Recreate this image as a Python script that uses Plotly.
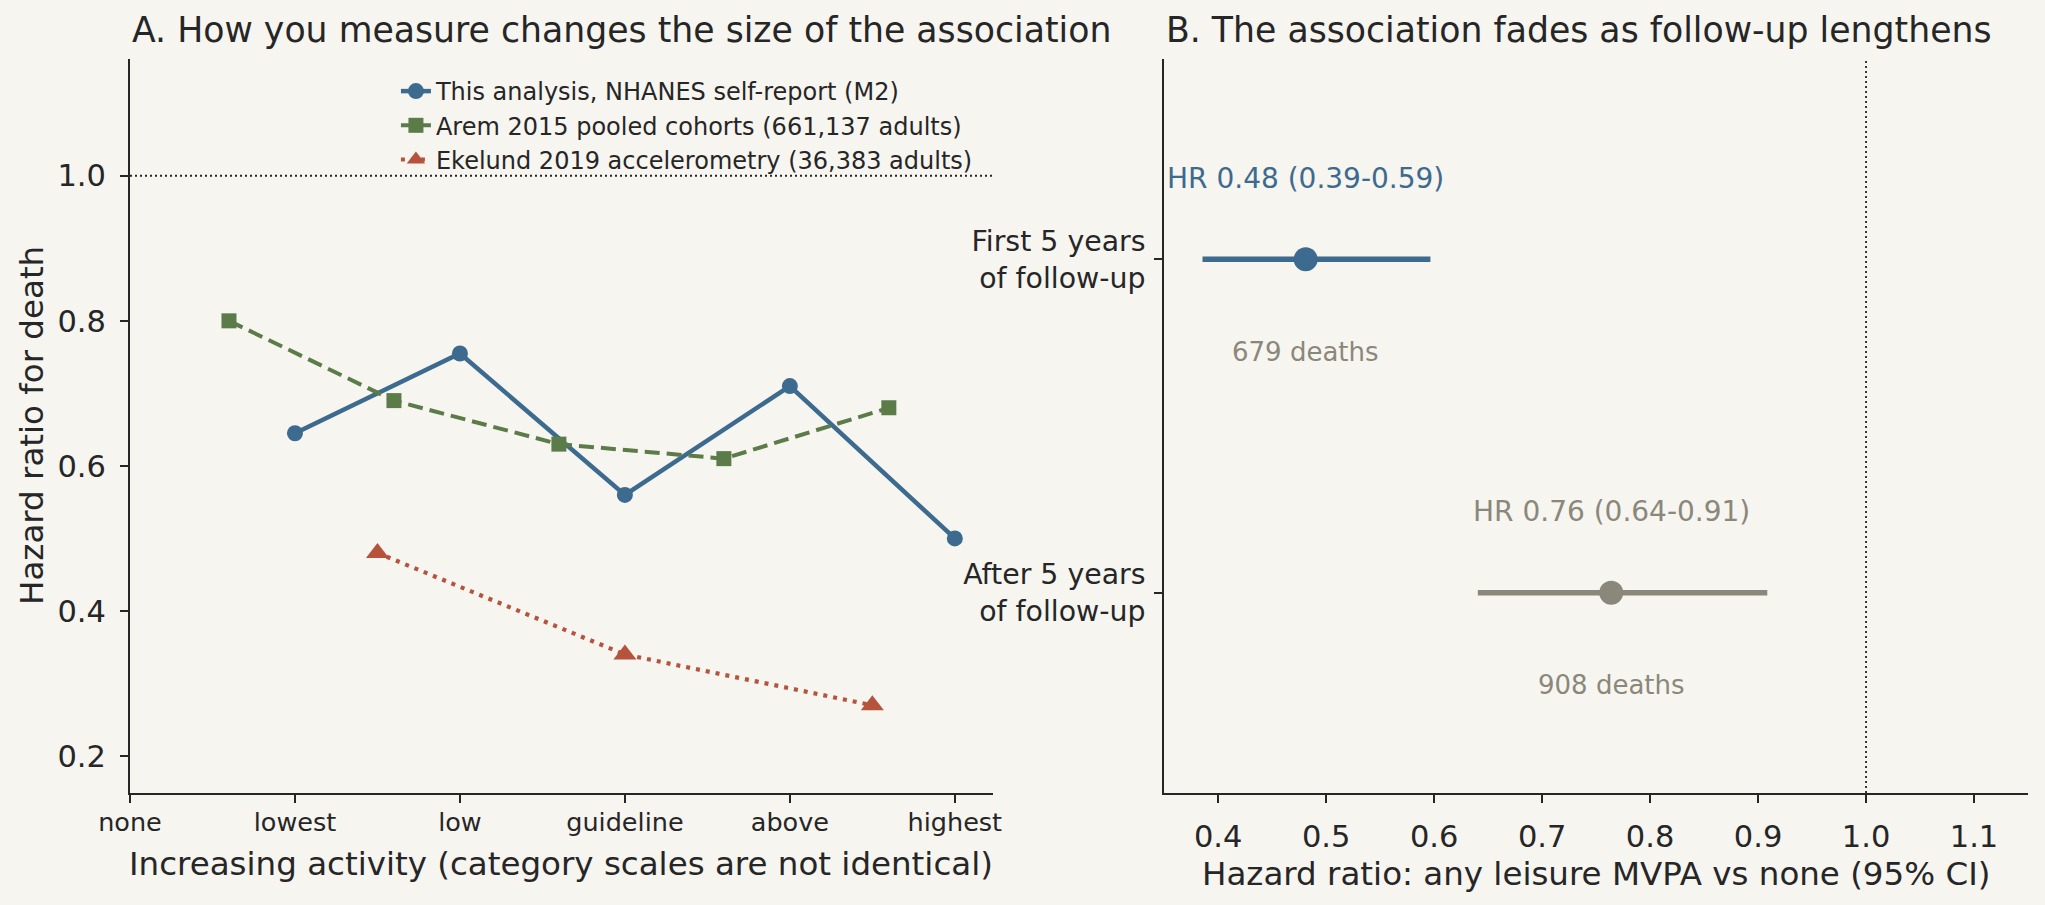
import plotly.graph_objects as go

# ---------------- data ----------------
categories = ["none", "lowest", "low", "guideline", "above", "highest"]
category_pos = [0, 1, 2, 3, 4, 5]

nhanes_x = [1, 2, 3, 4, 5]
nhanes_hr = [0.645, 0.755, 0.56, 0.71, 0.50]

arem_x = [0.6, 1.6, 2.6, 3.6, 4.6]
arem_hr = [0.80, 0.69, 0.63, 0.61, 0.68]

ekelund_x = [1.5, 3.0, 4.5]
ekelund_hr = [0.48, 0.34, 0.27]

periods = ["First 5 years<br>of follow-up", "After 5 years<br>of follow-up"]
period_pos = [1, 0]
period_hr = [0.481, 0.764]
period_lo = [0.388, 0.643]
period_hi = [0.594, 0.906]
period_deaths = [679, 908]

# ---------------- style ----------------
W, H = 2045, 905
ML, MR, MT, MB = 130, 16.5, 59, 112
BG = "#f7f5f0"
INK = "#262626"
BLUE = "#3d6a8f"
GREEN = "#5b7b49"
RED = "#b5533c"
GREY = "#8a877b"
FONT = "DejaVu Sans"
X2_RANGE = [0.35, 1.15]
X2_LEFT, X2_RIGHT = 1164.5, W - MR
CI_WIDTH = 5.5


def px(x):
    return (x - ML) / (W - ML - MR)


def py(y):
    return (H - MB - y) / (H - MT - MB)


# half line width expressed in x2 data units (projecting line caps)
cap = (CI_WIDTH / 2) * (X2_RANGE[1] - X2_RANGE[0]) / (X2_RIGHT - X2_LEFT)

fig = go.Figure()

# Panel A
fig.add_trace(go.Scatter(
    x=nhanes_x, y=nhanes_hr, mode="lines+markers",
    name="This analysis, NHANES self-report (M2)",
    line=dict(color=BLUE, width=4.5),
    marker=dict(symbol="circle", size=16, color=BLUE),
    xaxis="x", yaxis="y"))
fig.add_trace(go.Scatter(
    x=arem_x, y=arem_hr, mode="lines+markers",
    name="Arem 2015 pooled cohorts (661,137 adults)",
    line=dict(color=GREEN, width=4, dash="15px,7px"),
    marker=dict(symbol="square", size=15, color=GREEN),
    xaxis="x", yaxis="y"))
fig.add_trace(go.Scatter(
    x=ekelund_x, y=ekelund_hr, mode="lines+markers",
    name="Ekelund 2019 accelerometry (36,383 adults)",
    line=dict(color=RED, width=4.2, dash="4px,6px"),
    marker=dict(symbol="triangle-up", size=20, color=RED),
    xaxis="x", yaxis="y"))

# Panel B: CI lines and points
pcolors = [BLUE, GREY]
for i in range(len(periods)):
    fig.add_trace(go.Scatter(
        x=[period_lo[i] - cap, period_hi[i] + cap], y=[period_pos[i], period_pos[i]],
        mode="lines", line=dict(color=pcolors[i], width=CI_WIDTH),
        showlegend=False, hoverinfo="skip", xaxis="x2", yaxis="y2"))
    fig.add_trace(go.Scatter(
        x=[period_hr[i]], y=[period_pos[i]], mode="markers",
        marker=dict(symbol="circle", size=24, color=pcolors[i]),
        showlegend=False, xaxis="x2", yaxis="y2"))

# reference lines
fig.add_shape(type="line", xref="x domain", yref="y", x0=0, x1=1, y0=1.0, y1=1.0,
              line=dict(color=INK, width=1.8, dash="2px,3px"))
fig.add_shape(type="line", xref="x2", yref="y2 domain", x0=1.0, x1=1.0, y0=0, y1=1,
              line=dict(color=INK, width=1.8, dash="2px,3px"))

annotations = []
# HR labels
for i in range(len(periods)):
    annotations.append(dict(
        x=period_hr[i], y=period_pos[i] + 0.243, xref="x2", yref="y2",
        text=f"HR {period_hr[i]:.2f} ({period_lo[i]:.2f}-{period_hi[i]:.2f})",
        showarrow=False, xanchor="center", yanchor="middle",
        font=dict(family=FONT, size=28, color=pcolors[i])))
    annotations.append(dict(
        x=period_hr[i], y=period_pos[i] - 0.277, xref="x2", yref="y2",
        text=f"{period_deaths[i]} deaths",
        showarrow=False, xanchor="center", yanchor="middle",
        font=dict(family=FONT, size=26, color=GREY)))

# titles
annotations.append(dict(x=px(130), y=py(29.5), xref="paper", yref="paper",
                        text="A. How you measure changes the size of the association",
                        showarrow=False, xanchor="left", yanchor="middle",
                        font=dict(family=FONT, size=34.7, color=INK)))
annotations.append(dict(x=px(X2_LEFT), y=py(29.5), xref="paper", yref="paper",
                        text="B. The association fades as follow-up lengthens",
                        showarrow=False, xanchor="left", yanchor="middle",
                        font=dict(family=FONT, size=34.7, color=INK)))
# axis titles
annotations.append(dict(x=px(561.5), y=py(864), xref="paper", yref="paper",
                        text="Increasing activity (category scales are not identical)",
                        showarrow=False, xanchor="center", yanchor="middle",
                        font=dict(family=FONT, size=32.5, color=INK)))
annotations.append(dict(x=px((X2_LEFT + X2_RIGHT) / 2), y=py(874), xref="paper", yref="paper",
                        text="Hazard ratio: any leisure MVPA vs none (95% CI)",
                        showarrow=False, xanchor="center", yanchor="middle",
                        font=dict(family=FONT, size=32.5, color=INK)))
annotations.append(dict(x=px(32), y=py(426), xref="paper", yref="paper",
                        text="Hazard ratio for death", textangle=-90,
                        showarrow=False, xanchor="center", yanchor="middle",
                        font=dict(family=FONT, size=32.5, color=INK)))

axis_common = dict(showline=True, linecolor=INK, linewidth=2, ticks="outside",
                   ticklen=8, tickwidth=2, tickcolor=INK, showgrid=False,
                   zeroline=False, mirror=False)

fig.update_layout(
    width=W, height=H,
    margin=dict(l=ML, r=MR, t=MT, b=MB, autoexpand=False),
    paper_bgcolor=BG, plot_bgcolor=BG,
    font=dict(family=FONT, color=INK),
    showlegend=True,
    legend=dict(x=px(396), y=py(69), xanchor="left", yanchor="top",
                bgcolor="rgba(0,0,0,0)", font=dict(family=FONT, size=24, color=INK),
                tracegroupgap=0),
    xaxis=dict(domain=[0, px(993)], range=[0, 5.23], tickmode="array",
               tickvals=category_pos, ticktext=categories,
               tickfont=dict(family=FONT, size=25.5, color=INK),
               ticklabelstandoff=-3, anchor="y", **axis_common),
    yaxis=dict(domain=[0, 1], range=[0.149, 1.161], tickmode="array",
               tickvals=[0.2, 0.4, 0.6, 0.8, 1.0], ticktext=["0.2", "0.4", "0.6", "0.8", "1.0"],
               tickfont=dict(family=FONT, size=30.5, color=INK),
               ticklabelstandoff=8, anchor="x", **axis_common),
    xaxis2=dict(domain=[px(X2_LEFT), 1], range=X2_RANGE, tickmode="array",
                tickvals=[0.4, 0.5, 0.6, 0.7, 0.8, 0.9, 1.0, 1.1],
                ticktext=["0.4", "0.5", "0.6", "0.7", "0.8", "0.9", "1.0", "1.1"],
                tickfont=dict(family=FONT, size=30.5, color=INK),
                ticklabelstandoff=7, anchor="y2", **axis_common),
    yaxis2=dict(domain=[0, 1], range=[-0.6, 1.6], tickmode="array",
                tickvals=period_pos, ticktext=periods,
                tickfont=dict(family=FONT, size=28.4, color=INK),
                ticklabelstandoff=3, anchor="x2", **axis_common),
    annotations=annotations,
)

fig.write_html("out.html", config={"displayModeBar": False},
               post_script="document.body.style.margin='0';document.body.style.background='%s';" % BG)
